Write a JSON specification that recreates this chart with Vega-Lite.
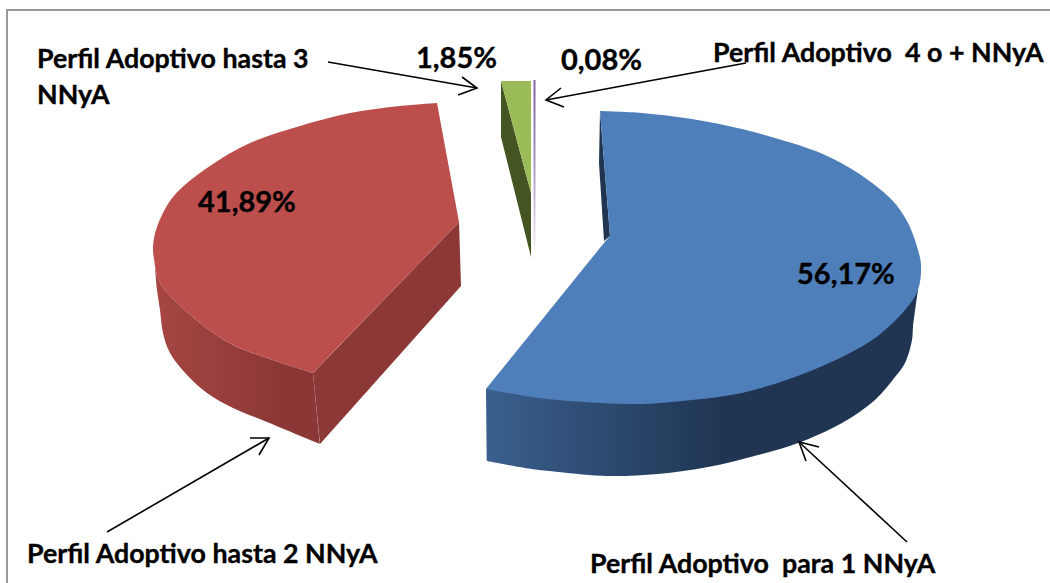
{
"$schema":"https://vega.github.io/schema/vega-lite/v6.json",
"width":1050,"height":583,"autosize":{"type":"fit","contains":"padding"},"padding":0,"background":"#ffffff",
"config":{"view":{"stroke":null}},
"datasets":{
"shapes":[
{"part":"redSide","i":1,"x":153,"y":247},{"part":"redSide","i":2,"x":155,"y":265},{"part":"redSide","i":3,"x":158,"y":278},{"part":"redSide","i":4,"x":165,"y":290},{"part":"redSide","i":5,"x":200,"y":323},{"part":"redSide","i":6,"x":233,"y":345},{"part":"redSide","i":7,"x":267,"y":358},{"part":"redSide","i":8,"x":313,"y":373},{"part":"redSide","i":9,"x":313,"y":373},{"part":"redSide","i":10,"x":320,"y":444},{"part":"redSide","i":11,"x":320,"y":444},{"part":"redSide","i":12,"x":267,"y":422},{"part":"redSide","i":13,"x":233,"y":408},{"part":"redSide","i":14,"x":207,"y":393},{"part":"redSide","i":15,"x":187,"y":375},{"part":"redSide","i":16,"x":170,"y":353},{"part":"redSide","i":17,"x":163,"y":333},{"part":"redSide","i":18,"x":160,"y":310},{"part":"redSide","i":19,"x":157,"y":290},{"part":"redSide","i":20,"x":155,"y":267},
{"part":"redWall","i":1,"x":313,"y":373},{"part":"redWall","i":2,"x":459,"y":222},{"part":"redWall","i":3,"x":461,"y":286},{"part":"redWall","i":4,"x":320,"y":444},
{"part":"redTop","i":1,"x":437,"y":103},{"part":"redTop","i":2,"x":400,"y":106},{"part":"redTop","i":3,"x":350,"y":113},{"part":"redTop","i":4,"x":300,"y":126},{"part":"redTop","i":5,"x":250,"y":143},{"part":"redTop","i":6,"x":207,"y":168},{"part":"redTop","i":7,"x":173,"y":197},{"part":"redTop","i":8,"x":157,"y":227},{"part":"redTop","i":9,"x":153,"y":247},{"part":"redTop","i":10,"x":155,"y":265},{"part":"redTop","i":11,"x":158,"y":278},{"part":"redTop","i":12,"x":165,"y":290},{"part":"redTop","i":13,"x":200,"y":323},{"part":"redTop","i":14,"x":233,"y":345},{"part":"redTop","i":15,"x":267,"y":358},{"part":"redTop","i":16,"x":313,"y":373},{"part":"redTop","i":17,"x":313,"y":373},{"part":"redTop","i":18,"x":459,"y":222},
{"part":"blueSliver","i":1,"x":600,"y":111},{"part":"blueSliver","i":2,"x":599,"y":163},{"part":"blueSliver","i":3,"x":604,"y":241},{"part":"blueSliver","i":4,"x":610,"y":236},
{"part":"blueSide","i":1,"x":918,"y":290},{"part":"blueSide","i":2,"x":913,"y":327},{"part":"blueSide","i":3,"x":912,"y":340},{"part":"blueSide","i":4,"x":905,"y":363},{"part":"blueSide","i":5,"x":895,"y":377},{"part":"blueSide","i":6,"x":875,"y":400},{"part":"blueSide","i":7,"x":842,"y":423},{"part":"blueSide","i":8,"x":798,"y":443},{"part":"blueSide","i":9,"x":758,"y":455},{"part":"blueSide","i":10,"x":708,"y":467},{"part":"blueSide","i":11,"x":658,"y":474},{"part":"blueSide","i":12,"x":608,"y":476},{"part":"blueSide","i":13,"x":558,"y":472},{"part":"blueSide","i":14,"x":525,"y":468},{"part":"blueSide","i":15,"x":487,"y":461},{"part":"blueSide","i":16,"x":487,"y":461},{"part":"blueSide","i":17,"x":486,"y":389},{"part":"blueSide","i":18,"x":486,"y":389},{"part":"blueSide","i":19,"x":700,"y":350},
{"part":"blueTop","i":1,"x":600,"y":111},{"part":"blueTop","i":2,"x":642,"y":113},{"part":"blueTop","i":3,"x":692,"y":119},{"part":"blueTop","i":4,"x":742,"y":129},{"part":"blueTop","i":5,"x":792,"y":143},{"part":"blueTop","i":6,"x":825,"y":155},{"part":"blueTop","i":7,"x":858,"y":173},{"part":"blueTop","i":8,"x":892,"y":200},{"part":"blueTop","i":9,"x":908,"y":223},{"part":"blueTop","i":10,"x":918,"y":250},{"part":"blueTop","i":11,"x":921,"y":265},{"part":"blueTop","i":12,"x":918,"y":290},{"part":"blueTop","i":13,"x":905,"y":310},{"part":"blueTop","i":14,"x":875,"y":338},{"part":"blueTop","i":15,"x":842,"y":357},{"part":"blueTop","i":16,"x":792,"y":378},{"part":"blueTop","i":17,"x":742,"y":393},{"part":"blueTop","i":18,"x":692,"y":400},{"part":"blueTop","i":19,"x":642,"y":404},{"part":"blueTop","i":20,"x":602,"y":403},{"part":"blueTop","i":21,"x":558,"y":400},{"part":"blueTop","i":22,"x":525,"y":396},{"part":"blueTop","i":23,"x":486,"y":389},{"part":"blueTop","i":24,"x":486,"y":389},{"part":"blueTop","i":25,"x":604,"y":243},{"part":"blueTop","i":26,"x":604,"y":243},{"part":"blueTop","i":27,"x":610,"y":236},{"part":"blueTop","i":28,"x":610,"y":236},
{"part":"greenDark","i":1,"x":501,"y":81},{"part":"greenDark","i":2,"x":531,"y":193},{"part":"greenDark","i":3,"x":531,"y":257},{"part":"greenDark","i":4,"x":501,"y":137},
{"part":"greenTop","i":1,"x":501,"y":81},{"part":"greenTop","i":2,"x":531,"y":81},{"part":"greenTop","i":3,"x":531,"y":193},
{"part":"purple","i":1,"x":533.5,"y":80},{"part":"purple","i":2,"x":535.5,"y":80},{"part":"purple","i":3,"x":535.5,"y":246},{"part":"purple","i":4,"x":533.5,"y":246}
],
"lines":[
{"part":"a3","i":1,"x":328,"y":62},{"part":"a3","i":2,"x":477,"y":88},{"part":"a3h","i":1,"x":462,"y":77},{"part":"a3h","i":2,"x":477,"y":88},{"part":"a3h","i":3,"x":458,"y":95},
{"part":"a4","i":1,"x":746,"y":63},{"part":"a4","i":2,"x":546,"y":100},{"part":"a4h","i":1,"x":561,"y":88},{"part":"a4h","i":2,"x":546,"y":100},{"part":"a4h","i":3,"x":564,"y":107},
{"part":"a2","i":1,"x":107,"y":532},{"part":"a2","i":2,"x":269,"y":438},{"part":"a2h","i":1,"x":250,"y":438},{"part":"a2h","i":2,"x":269,"y":438},{"part":"a2h","i":3,"x":259,"y":455},
{"part":"a1","i":1,"x":907,"y":542},{"part":"a1","i":2,"x":799,"y":442},{"part":"a1h","i":1,"x":819,"y":447},{"part":"a1h","i":2,"x":799,"y":442},{"part":"a1h","i":3,"x":806,"y":461}
],
"frame":[{"i":1,"x":7,"y":583},{"i":2,"x":7,"y":10},{"i":3,"x":1050,"y":10}],
"names":[
{"t":"Perfil Adoptivo hasta 3","x":37,"y":68},{"t":"NNyA","x":37,"y":104},{"t":"Perfil Adoptivo \u00a04 o + NNyA","x":713,"y":62},{"t":"Perfil Adoptivo hasta 2 NNyA","x":27,"y":563},{"t":"Perfil Adoptivo \u00a0para 1 NNyA","x":590,"y":573}
],
"pcts":[
{"t":"1,85%","x":416,"y":68},{"t":"0,08%","x":561,"y":70},{"t":"41,89%","x":198,"y":212},{"t":"56,17%","x":797,"y":284}
]
},
"encoding":{
"x":{"field":"x","type":"quantitative","axis":null,"scale":{"domain":[0,1050],"zero":false,"nice":false}},
"y":{"field":"y","type":"quantitative","axis":null,"scale":{"domain":[0,583],"zero":false,"nice":false,"reverse":true}}
},
"layer":[
{"data":{"name":"shapes"},"transform":[{"filter":"datum.part==='redSide'"}],"mark":{"type":"line","interpolate":"catmull-rom","stroke":null,"fill":{"gradient":"linear","x1":0,"y1":0,"x2":1,"y2":0,"stops":[{"offset":0,"color":"#a64643"},{"offset":0.8,"color":"#8a3735"},{"offset":1,"color":"#8a3735"}]}},"encoding":{"order":{"field":"i"}}},
{"data":{"name":"shapes"},"transform":[{"filter":"datum.part==='redWall'"}],"mark":{"type":"line","stroke":null,"fill":"#8b3836"},"encoding":{"order":{"field":"i"}}},
{"data":{"name":"shapes"},"transform":[{"filter":"datum.part==='redTop'"}],"mark":{"type":"line","interpolate":"catmull-rom","stroke":null,"fill":"#bc4e4c"},"encoding":{"order":{"field":"i"}}},
{"data":{"name":"shapes"},"transform":[{"filter":"datum.part==='blueSliver'"}],"mark":{"type":"line","stroke":null,"fill":"#1f3552"},"encoding":{"order":{"field":"i"}}},
{"data":{"name":"shapes"},"transform":[{"filter":"datum.part==='blueSide'"}],"mark":{"type":"line","interpolate":"catmull-rom","stroke":null,"fill":{"gradient":"linear","x1":0,"y1":0,"x2":1,"y2":0,"stops":[{"offset":0,"color":"#3a5f8e"},{"offset":0.55,"color":"#1f3552"},{"offset":1,"color":"#1f3552"}]}},"encoding":{"order":{"field":"i"}}},
{"data":{"name":"shapes"},"transform":[{"filter":"datum.part==='blueTop'"}],"mark":{"type":"line","interpolate":"catmull-rom","stroke":null,"fill":"#4f7fba"},"encoding":{"order":{"field":"i"}}},
{"data":{"name":"shapes"},"transform":[{"filter":"datum.part==='greenDark'"}],"mark":{"type":"line","stroke":null,"fill":"#455423"},"encoding":{"order":{"field":"i"}}},
{"data":{"name":"shapes"},"transform":[{"filter":"datum.part==='greenTop'"}],"mark":{"type":"line","stroke":null,"fill":"#9bbb59"},"encoding":{"order":{"field":"i"}}},
{"data":{"name":"shapes"},"transform":[{"filter":"datum.part==='purple'"}],"mark":{"type":"line","stroke":null,"fill":{"gradient":"linear","x1":0,"y1":0,"x2":0,"y2":1,"stops":[{"offset":0,"color":"#8064a2"},{"offset":0.5,"color":"#a594bd"},{"offset":1,"color":"#f0edf4"}]}},"encoding":{"order":{"field":"i"}}},
{"data":{"name":"lines"},"mark":{"type":"line","color":"#000000","strokeWidth":1.6},"encoding":{"detail":{"field":"part"},"order":{"field":"i"}}},
{"data":{"name":"frame"},"mark":{"type":"line","color":"#999999","strokeWidth":2,"clip":true},"encoding":{"order":{"field":"i"}}},
{"data":{"name":"names"},"mark":{"type":"text","font":"Lato","fontWeight":"bold","fontSize":26.8,"align":"left","baseline":"alphabetic","fill":"#000000","stroke":"#000000","strokeWidth":0.35},"encoding":{"text":{"field":"t"}}},
{"data":{"name":"pcts"},"mark":{"type":"text","font":"Lato","fontWeight":"bold","fontSize":29,"align":"left","baseline":"alphabetic","fill":"#000000","stroke":"#000000","strokeWidth":0.35},"encoding":{"text":{"field":"t"}}}
]
}
